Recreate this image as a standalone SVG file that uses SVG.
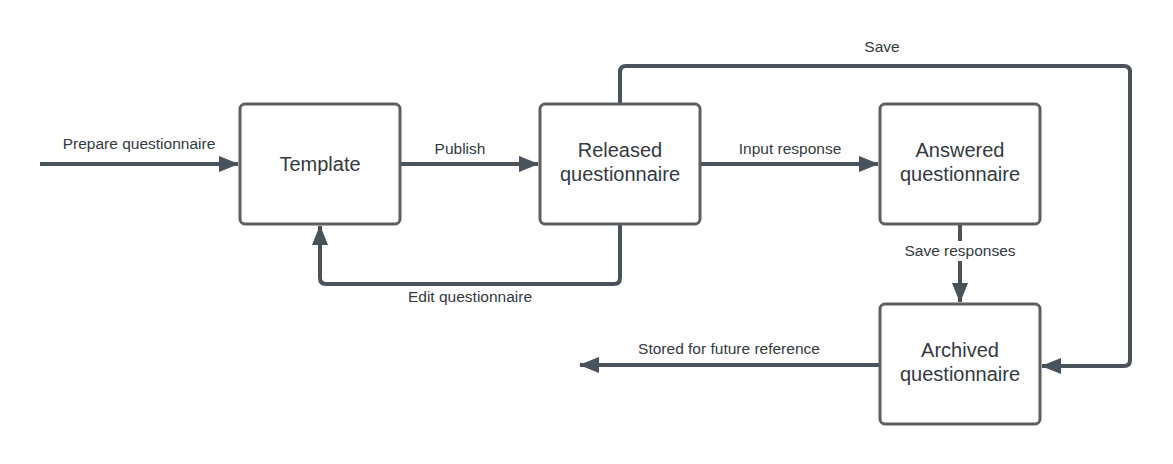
<svg xmlns="http://www.w3.org/2000/svg" width="1173" height="464" viewBox="0 0 1173 464">
<style>
.node rect{fill:#ffffff;stroke:#5e5e5e;stroke-width:3}
.node text{font-family:"Liberation Sans",Arial,sans-serif;font-size:20px;fill:#333a42;text-anchor:middle}
.conn path{fill:none;stroke:#4a525c;stroke-width:4;stroke-linejoin:round}
.lbl{font-family:"Liberation Sans",Arial,sans-serif;font-size:15.5px;fill:#333a42;text-anchor:middle}
</style>
<defs>
<marker id="arr" viewBox="0 0 20 16" refX="19" refY="8" markerWidth="20" markerHeight="16" markerUnits="userSpaceOnUse" orient="auto">
<path d="M0,0 L20,8 L0,16 Z" fill="#4a525c"/>
</marker>
</defs>
<rect width="1173" height="464" fill="#ffffff"/>
<g class="conn">
<path d="M40,164 H238" marker-end="url(#arr)"/>
<path d="M400,164 H538" marker-end="url(#arr)"/>
<path d="M700,164 H878" marker-end="url(#arr)"/>
<path d="M960,224 V302" marker-end="url(#arr)"/>
<path d="M620,104 V72 Q620,66 626,66 H1124 Q1130,66 1130,72 V360 Q1130,366 1124,366 H1042" marker-end="url(#arr)"/>
<path d="M620,224 V278 Q620,284 614,284 H326 Q320,284 320,278 V226" marker-end="url(#arr)"/>
<path d="M880,365 H580" marker-end="url(#arr)"/>
</g>
<g id="labels">
<text class="lbl" x="139" y="149">Prepare questionnaire</text>
<text class="lbl" x="460" y="154">Publish</text>
<text class="lbl" x="790" y="154">Input response</text>
<rect x="897" y="241" width="126" height="20" fill="#ffffff"/>
<text class="lbl" x="960" y="256">Save responses</text>
<text class="lbl" x="882" y="52">Save</text>
<text class="lbl" x="470" y="302">Edit questionnaire</text>
<text class="lbl" x="729" y="354">Stored for future reference</text>
</g>
<g id="template" class="node">
<rect x="240" y="104" width="160" height="120" rx="5"/>
<text x="320" y="171">Template</text>
</g>
<g id="released" class="node">
<rect x="540" y="104" width="160" height="120" rx="5"/>
<text x="620" y="157">Released</text>
<text x="620" y="181">questionnaire</text>
</g>
<g id="answered" class="node">
<rect x="880" y="104" width="160" height="120" rx="5"/>
<text x="960" y="157">Answered</text>
<text x="960" y="181">questionnaire</text>
</g>
<g id="archived" class="node">
<rect x="880" y="304" width="160" height="120" rx="5"/>
<text x="960" y="357">Archived</text>
<text x="960" y="381">questionnaire</text>
</g>
</svg>
